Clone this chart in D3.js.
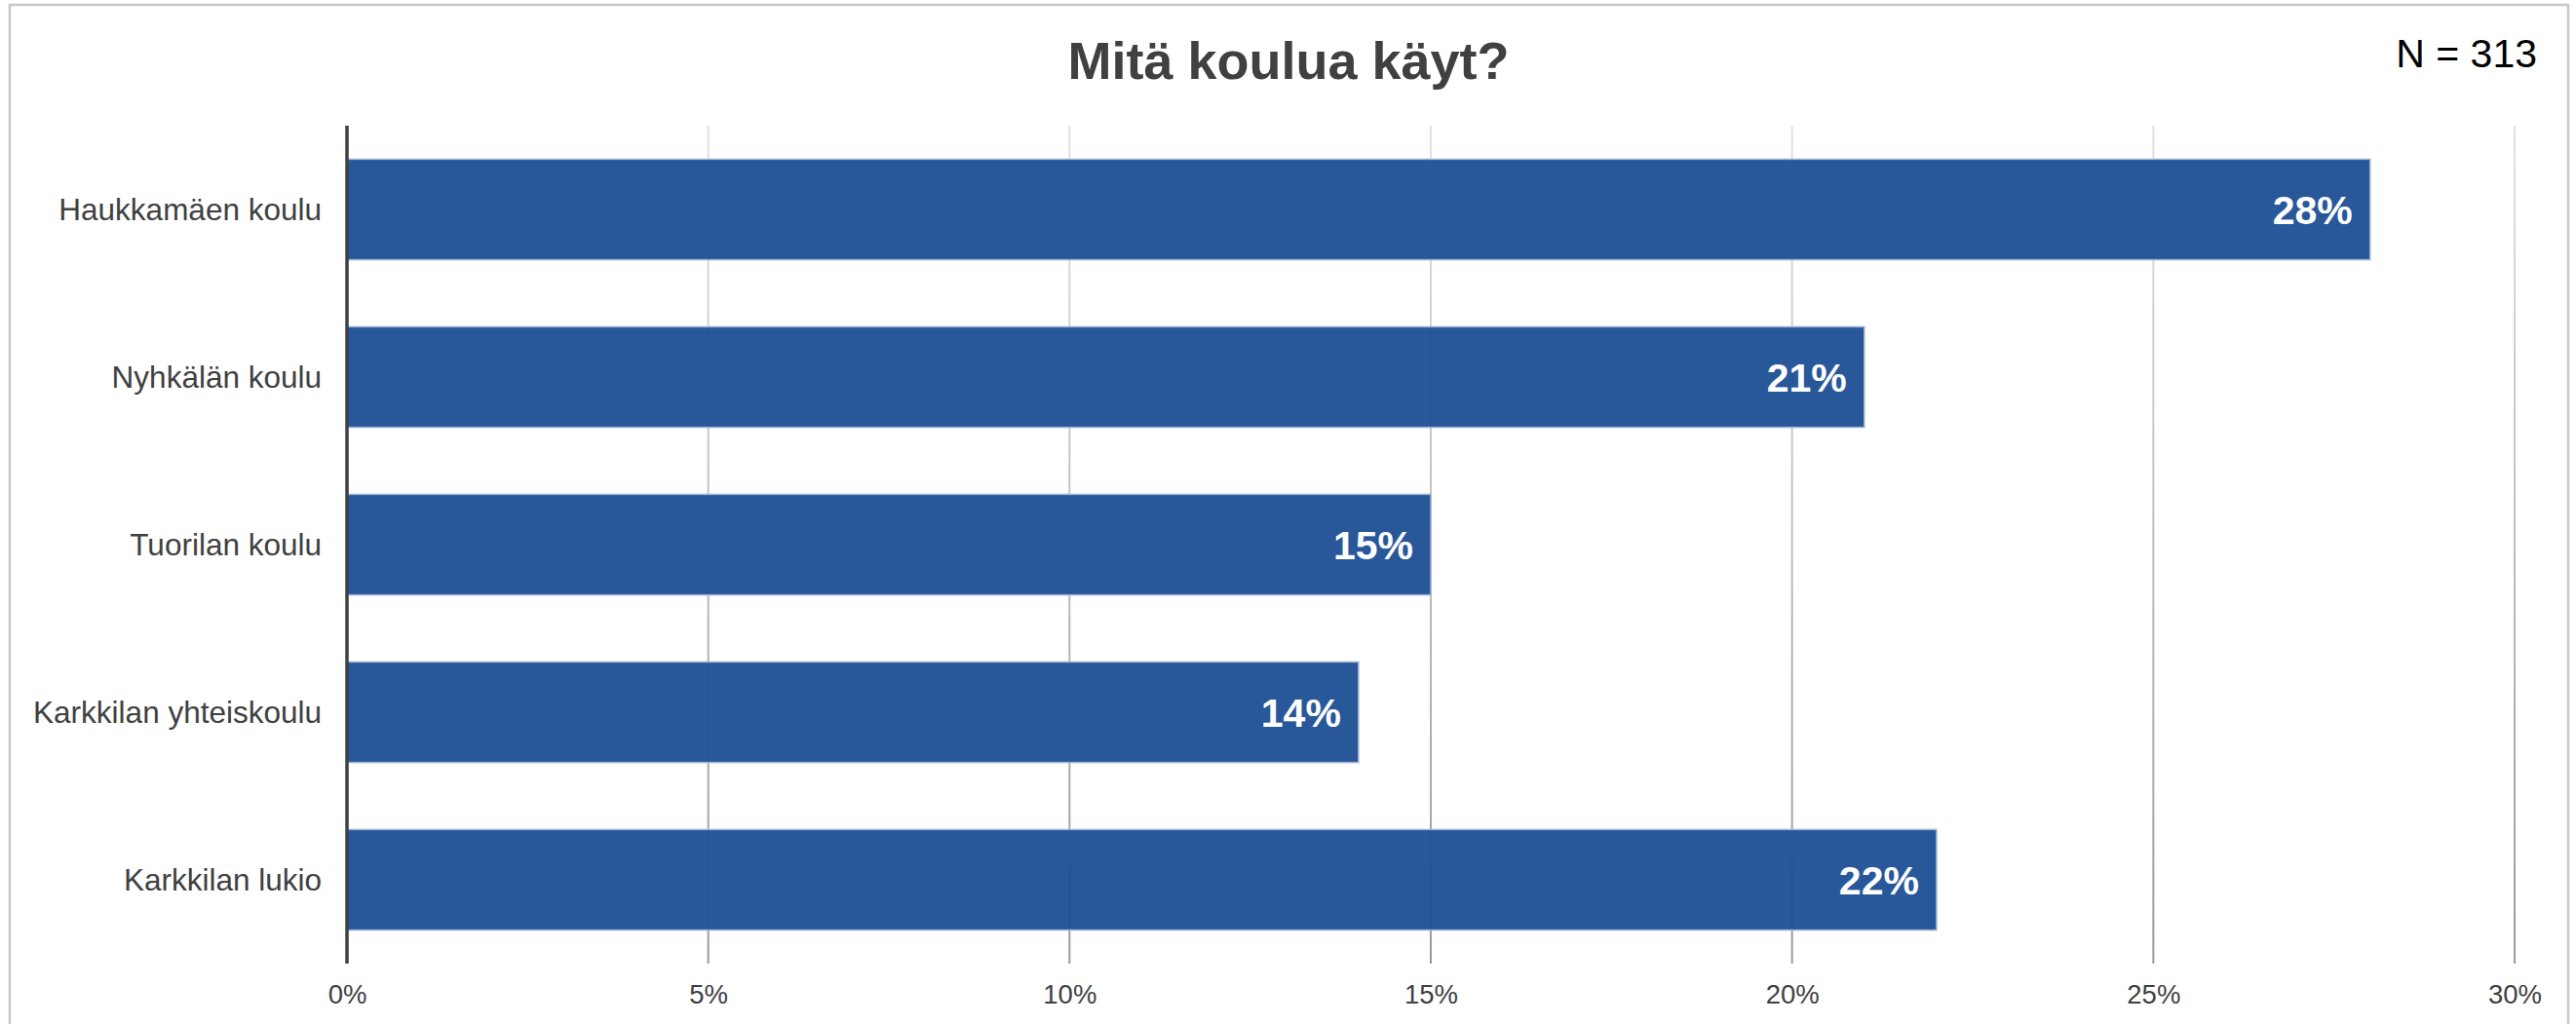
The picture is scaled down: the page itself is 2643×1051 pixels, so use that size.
<!DOCTYPE html>
<html>
<head>
<meta charset="utf-8">
<script src="https://cdn.jsdelivr.net/npm/d3@7"></script>
<style>
  html, body { margin: 0; padding: 0; background: #ffffff; }
  svg { display: block; font-family: "Liberation Sans", Arial, sans-serif; }
</style>
</head>
<body>
<svg id="chart" width="2643" height="1051"></svg>
<script>
// ---- data ----
const categories = ["Haukkamäen koulu", "Nyhkälän koulu", "Tuorilan koulu", "Karkkilan yhteiskoulu", "Karkkilan lukio"];
const values = [28, 21, 15, 14, 22];
const tickValues = [0, 5, 10, 15, 20, 25, 30];
const titleText = "Mitä koulua käyt?";
const nText = "N = 313";

// ---- layout ----
const W = 2643, H = 1051;
const plot = { left: 356, right: 2580, top: 129, bottom: 989 };

const svg = d3.select("#chart");

// frame
svg.append("rect")
  .attr("x", 10).attr("y", 5)
  .attr("width", 2625).attr("height", 1100)
  .attr("fill", "#ffffff")
  .attr("stroke", "#c8c8c8").attr("stroke-width", 2.5);

const x = d3.scaleLinear().domain([0, 30]).range([plot.left, plot.right]);
const y = d3.scaleBand().domain(categories).range([plot.top, plot.bottom])
  .paddingInner(0.4).paddingOuter(0.2);

// gradient for grid lines
const defs = svg.append("defs");
const grad = defs.append("linearGradient").attr("id", "gridGrad")
  .attr("gradientUnits", "userSpaceOnUse")
  .attr("x1", 0).attr("y1", plot.top).attr("x2", 0).attr("y2", plot.bottom);
grad.append("stop").attr("offset", "0%").attr("stop-color", "#e2e2e2");
grad.append("stop").attr("offset", "100%").attr("stop-color", "#9a9a9a");

// grid lines
svg.append("g").selectAll("line")
  .data(tickValues.filter(d => d > 0))
  .join("line")
  .attr("x1", d => x(d)).attr("x2", d => x(d))
  .attr("y1", plot.top).attr("y2", plot.bottom)
  .attr("stroke", "url(#gridGrad)").attr("stroke-width", 2);

// bars
svg.append("g").selectAll("rect")
  .data(categories)
  .join("rect")
  .attr("x", x(0))
  .attr("y", d => y(d))
  .attr("width", (d, i) => x(values[i]) - x(0))
  .attr("height", y.bandwidth())
  .attr("fill", "#1f5096")
  .attr("fill-opacity", 0.96)
  .attr("stroke", "#9fb4d4")
  .attr("stroke-width", 1.5);

// value labels
svg.append("g").selectAll("text")
  .data(categories)
  .join("text")
  .attr("x", (d, i) => x(values[i]) - 18)
  .attr("y", d => y(d) + y.bandwidth() / 2 + 15)
  .attr("text-anchor", "end")
  .attr("fill", "#ffffff")
  .attr("font-weight", "bold")
  .attr("font-size", 41)
  .text((d, i) => values[i] + "%");

// x axis tick labels
const xAxis = d3.axisBottom(x).tickValues(tickValues).tickFormat(d => d + "%").tickSize(0).tickPadding(0);
const gx = svg.append("g").attr("transform", `translate(0, ${1030})`).call(xAxis);
gx.select(".domain").remove();
gx.selectAll("text")
  .attr("dy", 0)
  .attr("y", 0)
  .attr("fill", "#404040")
  .attr("font-size", 27.5)
  .attr("font-family", "Liberation Sans, Arial, sans-serif");

// y axis category labels
const yAxis = d3.axisLeft(y).tickSize(0).tickPadding(0);
const gy = svg.append("g").attr("transform", `translate(${plot.left - 26}, 0)`).call(yAxis);
gy.select(".domain").remove();
gy.selectAll("text")
  .attr("x", 0)
  .attr("dy", "0.36em")
  .attr("fill", "#404040")
  .attr("font-size", 31.5)
  .attr("font-family", "Liberation Sans, Arial, sans-serif");

// zero axis line
svg.append("line")
  .attr("x1", x(0)).attr("x2", x(0))
  .attr("y1", plot.top).attr("y2", plot.bottom)
  .attr("stroke", "#404040").attr("stroke-width", 3.5);

// title
svg.append("text")
  .attr("x", 1322).attr("y", 81)
  .attr("text-anchor", "middle")
  .attr("fill", "#404040")
  .attr("font-weight", "bold")
  .attr("font-size", 54)
  .text(titleText);

// N
svg.append("text")
  .attr("x", 2603).attr("y", 69)
  .attr("text-anchor", "end")
  .attr("fill", "#000000")
  .attr("font-size", 41)
  .text(nText);
</script>
</body>
</html>
